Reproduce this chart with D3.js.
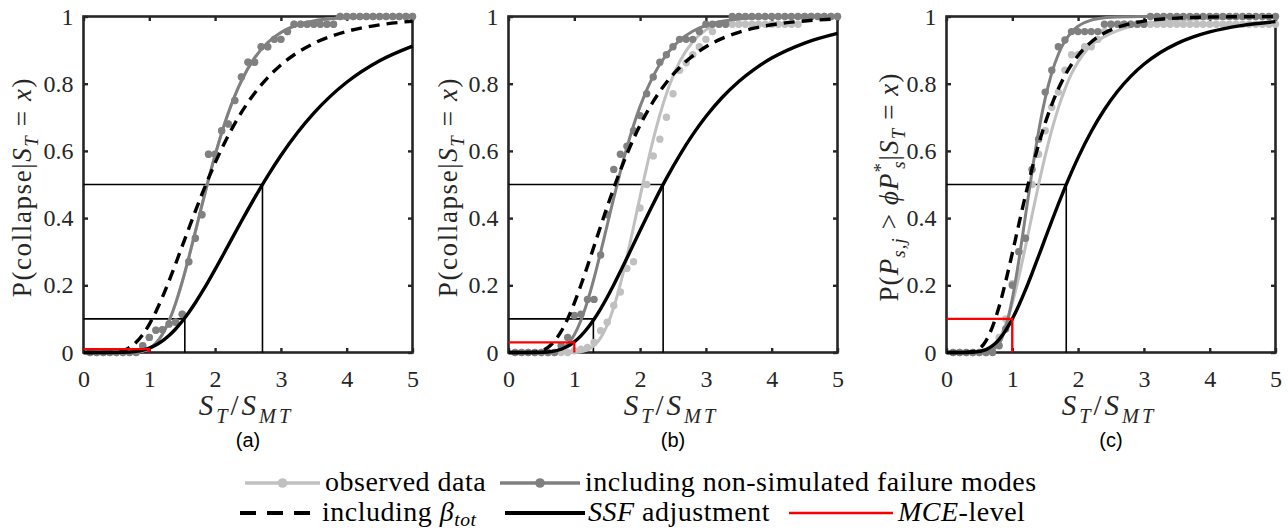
<!DOCTYPE html>
<html><head><meta charset="utf-8">
<script src="https://cdn.jsdelivr.net/npm/d3@7"></script>
<style>body{margin:0;background:#fff}text{white-space:pre}</style>
</head><body><svg id="chart" width="1288" height="531"></svg>
<script>
// ---------------- DATA ----------------
const xTicks = [0, 1, 2, 3, 4, 5];
const yTicks = [0, 0.2, 0.4, 0.6, 0.8, 1];
const yTickLabels = ["0", "0.2", "0.4", "0.6", "0.8", "1"];
const panelCaptions = ["(a)", "(b)", "(c)"];

// x positions where the fitted fragility curves were read
const xCurve = [0,0.2,0.4,0.6,0.8,0.9,1.0,1.1,1.2,1.3,1.4,1.5,1.6,1.7,1.8,1.9,2.0,2.2,2.4,2.6,2.8,3.0,3.25,3.5,3.75,4.0,4.5,5.0];

const aNonsimCurve = [0,0,0,0,0.0011,0.0043,0.0121,0.0278,0.0544,0.0938,0.1462,0.210,0.2823,0.3596,0.4384,0.515,0.5873,0.7126,0.8084,0.8766,0.9226,0.9524,0.9747,0.9868,0.9932,0.9965,0.9991,0.9998];
const aObsCurve = aNonsimCurve;
const aDashedCurve = [0,0,0.0003,0.006,0.0304,0.0535,0.0839,0.1216,0.165,0.213,0.264,0.3164,0.3689,0.4207,0.471,0.5189,0.564,0.6455,0.7144,0.7716,0.8183,0.8559,0.8925,0.92,0.9404,0.9556,0.9752,0.986];
const aSsfCurve = [0,0,0,0.0004,0.0033,0.007,0.0131,0.0221,0.0345,0.0505,0.07,0.093,0.1192,0.1481,0.1795,0.2127,0.2472,0.3187,0.3905,0.46,0.5257,0.5862,0.6539,0.7124,0.7623,0.8043,0.8684,0.912];

const bObsCurve = [0,0,0,0,0,0.0001,0.0006,0.0025,0.0079,0.0203,0.0435,0.0812,0.1348,0.2037,0.2848,0.3735,0.4641,0.6344,0.77,0.8649,0.925,0.9602,0.9829,0.9929,0.9972,0.9989,0.9998,1.0];
const bNonsimCurve = [0,0,0,0.0005,0.0098,0.0253,0.0531,0.0954,0.1521,0.221,0.298,0.3793,0.4604,0.5383,0.6105,0.6755,0.7325,0.8233,0.8866,0.9288,0.956,0.9731,0.9856,0.9924,0.996,0.9979,0.9994,0.9998];
const bDashedCurve = [0,0,0.0012,0.0154,0.0626,0.1008,0.1472,0.2,0.2571,0.3162,0.3755,0.4336,0.4892,0.5417,0.5906,0.6356,0.6765,0.7471,0.8036,0.8482,0.8829,0.9098,0.9349,0.953,0.966,0.9753,0.9868,0.9929];
const bSsfCurve = [0,0,0.0001,0.0015,0.0096,0.0185,0.0317,0.0495,0.072,0.099,0.1301,0.1646,0.2017,0.2408,0.2811,0.322,0.3629,0.443,0.5183,0.587,0.6484,0.7023,0.7596,0.8068,0.8452,0.8762,0.921,0.9496];

const cObsCurve = [0,0,0,0.004,0.0402,0.0838,0.1465,0.2255,0.315,0.4084,0.5,0.5853,0.6617,0.728,0.7839,0.83,0.865,0.915,0.94,0.958,0.97,0.978,0.985,0.989,0.992,0.994,0.996,0.998];
const cNonsimCurve = [0,0,0,0.0009,0.0271,0.0759,0.1597,0.2746,0.4067,0.5388,0.6577,0.7561,0.8321,0.8878,0.9269,0.9534,0.9708,0.989,0.996,0.9986,0.9995,0.9999,1,1,1,1,1,1];
const cDashedCurve = [0,0,0.0023,0.0348,0.1368,0.2118,0.2954,0.3823,0.4673,0.5471,0.6192,0.683,0.738,0.7849,0.8243,0.857,0.884,0.9241,0.9506,0.9679,0.9791,0.9864,0.992,0.9953,0.9972,0.9983,0.9994,0.9998];
const cSsfCurve = [0,0,0.0006,0.0087,0.0392,0.0659,0.0999,0.1405,0.1862,0.2357,0.2872,0.3395,0.3913,0.442,0.4906,0.5368,0.58,0.6577,0.7232,0.7775,0.8219,0.8577,0.8928,0.9193,0.9392,0.9541,0.9737,0.9848];

// empirical points (x = 0.1 ... 5.0)
const xPts = [0.1,0.2,0.3,0.4,0.5,0.6,0.7,0.8,0.9,1.0,1.1,1.2,1.3,1.4,1.5,1.6,1.7,1.8,1.9,2.0,2.1,2.2,2.3,2.4,2.5,2.6,2.7,2.8,2.9,3.0,3.1,3.2,3.3,3.4,3.5,3.6,3.7,3.8,3.9,4.0,4.1,4.2,4.3,4.4,4.5,4.6,4.7,4.8,4.9,5.0];
const aNonsimPts = [0,0,0,0,0,0,0,0,0.02,0.045,0.066,0.068,0.085,0.09,0.114,0.27,0.34,0.41,0.59,0.59,0.66,0.68,0.75,0.82,0.864,0.864,0.91,0.91,0.932,0.932,0.955,0.977,0.977,0.977,0.977,0.977,0.977,0.977,1,1,1,1,1,1,1,1,1,1,1,1];
const aObsPts = aNonsimPts;
const bObsPts = [0,0,0,0,0,0,0,0,0,0.005,0.01,0.015,0.03,0.065,0.09,0.14,0.18,0.25,0.27,0.43,0.5,0.585,0.635,0.70,0.77,0.84,0.862,0.886,0.91,0.932,0.955,0.977,0.977,0.977,0.977,0.977,0.977,0.977,0.977,0.977,0.977,0.977,0.977,0.977,1,1,1,1,1,1];
const bNonsimPts = [0,0,0,0,0,0,0,0.02,0.045,0.11,0.114,0.158,0.158,0.29,0.41,0.545,0.59,0.614,0.66,0.705,0.77,0.82,0.864,0.886,0.91,0.932,0.932,0.932,0.955,0.977,0.977,0.977,0.977,1,1,1,1,1,1,1,1,1,1,1,1,1,1,1,1,1];
const cObsPts = [0,0,0,0,0,0,0.01,0.045,0.1,0.205,0.3,0.34,0.5,0.59,0.66,0.73,0.775,0.84,0.886,0.886,0.91,0.91,0.932,0.955,0.977,0.977,0.977,0.977,0.977,0.977,0.977,0.977,0.977,0.977,0.977,0.977,0.977,0.977,0.977,0.977,0.977,0.977,0.977,0.977,0.977,0.977,0.977,0.977,0.977,0.977];
const cNonsimPts = [0,0,0,0,0,0,0,0.02,0.07,0.2,0.3,0.34,0.545,0.635,0.775,0.84,0.91,0.93,0.955,0.955,0.955,0.955,0.955,0.977,0.977,0.977,0.977,0.977,0.977,0.977,1,1,1,1,1,1,1,1,1,1,1,1,1,1,1,1,1,1,1,1];

// reference (probability, S_T/S_MT) crossings of the SSF-adjusted curve
const refProbs = [[0.5, 0.1], [0.5, 0.1], [0.5, 0.1]];
const refX = [[2.72, 1.54], [2.35, 1.29], [1.82, 1.0]];
// MCE-level marker: x and probability
const mceX = [1, 1, 1];
const mceP = [0.01, 0.03, 0.1];

const legendLabels = ["observed data", "including non-simulated failure modes", "including β_tot", "SSF adjustment", "MCE-level"];

// ---------------- LAYOUT ----------------
const svg = d3.select("#chart");
const axisColor = "#262626";
const cObs = "#c0c0c0", cNon = "#808080";
const serif = "Liberation Serif, DejaVu Serif, Noto Serif, Times New Roman, serif";
const panelLeft = [83.5, 508.5, 946.5];
const panelW = 329, plotTop = 16.5, plotBottom = 352.5;
const ylabX = [30.5, 457, 898];

const panelData = [
  {obsC: aObsCurve, nonC: aNonsimCurve, dashC: aDashedCurve, ssfC: aSsfCurve, obsP: aObsPts, nonP: aNonsimPts},
  {obsC: bObsCurve, nonC: bNonsimCurve, dashC: bDashedCurve, ssfC: bSsfCurve, obsP: bObsPts, nonP: bNonsimPts},
  {obsC: cObsCurve, nonC: cNonsimCurve, dashC: cDashedCurve, ssfC: cSsfCurve, obsP: cObsPts, nonP: cNonsimPts}
];

function rich(sel, segs, fs, subShift) {
  const sb = subShift || 0.27;
  let cur = 0;
  segs.forEach(s => {
    const shift = s.sub ? sb * fs : (s.sup ? -0.42 * fs : 0);
    const ts = sel.append("tspan").text(s.t)
      .style("font-style", s.it ? "italic" : "normal")
      .style("font-size", ((s.sub || s.sup) ? fs * 0.7 : fs) + "px");
    if (shift !== cur) ts.attr("dy", shift - cur);
    if (s.dx) ts.attr("dx", s.dx);
    cur = shift;
  });
}

const ylabSegsCollapse = [{t:"P(collapse|"},{t:"S",it:1},{t:"T",it:1,sub:1},{t:" = "},{t:"x",it:1},{t:")"}];
const ylabSegsC = [{t:"P("},{t:"P",it:1},{t:"s,j",it:1,sub:1},{t:" > "},{t:"ϕ",it:1},{t:"P",it:1},{t:"*",sup:1},{t:"s",it:1,sub:1,dx:-7},{t:"|"},{t:"S",it:1},{t:"T",it:1,sub:1},{t:" = "},{t:"x",it:1},{t:")"}];
const xlabSegs = [{t:"S",it:1},{t:"T",it:1,sub:1},{t:"/"},{t:"S",it:1},{t:"MT",it:1,sub:1}];

panelData.forEach((pd, i) => {
  const L = panelLeft[i];
  const x = d3.scaleLinear().domain([0, 5]).range([L, L + panelW]);
  const y = d3.scaleLinear().domain([0, 1]).range([plotBottom, plotTop]);
  const g = svg.append("g");

  // frame
  g.append("rect").attr("x", L).attr("y", plotTop).attr("width", panelW).attr("height", plotBottom - plotTop)
    .attr("fill", "none").attr("stroke", axisColor).attr("stroke-width", 2.6);

  // axes (inward ticks)
  const fmtY = (d) => yTickLabels[yTicks.indexOf(d)];
  const ax = [
    g.append("g").attr("transform", `translate(0,${plotBottom})`).call(d3.axisBottom(x).tickValues(xTicks).tickSize(-4.5).tickPadding(17).tickFormat(d3.format("d"))),
    g.append("g").attr("transform", `translate(${L},0)`).call(d3.axisLeft(y).tickValues(yTicks).tickSize(-4.5).tickPadding(10).tickFormat(fmtY)),
    g.append("g").attr("transform", `translate(0,${plotTop})`).call(d3.axisTop(x).tickValues(xTicks).tickSize(-4.5).tickFormat("")),
    g.append("g").attr("transform", `translate(${L + panelW},0)`).call(d3.axisRight(y).tickValues(yTicks).tickSize(-4.5).tickFormat(""))
  ];
  ax.forEach(a => {
    a.attr("font-family", null).attr("font-size", null);
    a.select(".domain").remove();
    a.selectAll("line").attr("stroke", axisColor).attr("stroke-width", 2.4);
    a.selectAll("text").style("font-family", serif).style("font-size", "24px").attr("fill", axisColor);
  });

  // reference lines
  refProbs[i].forEach((p, k) => {
    const xv = refX[i][k];
    g.append("path").attr("d", `M${x(0)},${y(p)}H${x(xv)}V${y(0)}`)
      .attr("fill", "none").attr("stroke", "#000").attr("stroke-width", 1.6);
  });

  const line = d3.line().x((d, j) => x(xCurve[j])).y(d => y(d)).curve(d3.curveMonotoneX);

  // observed
  g.append("g").selectAll("circle").data(pd.obsP).join("circle")
    .attr("cx", (d, j) => x(xPts[j])).attr("cy", d => y(d)).attr("r", 3.7).attr("fill", cObs);
  g.append("path").attr("d", line(pd.obsC)).attr("fill", "none").attr("stroke", cObs).attr("stroke-width", 3);
  // non-simulated
  g.append("g").selectAll("circle").data(pd.nonP).join("circle")
    .attr("cx", (d, j) => x(xPts[j])).attr("cy", d => y(d)).attr("r", 3.7).attr("fill", cNon);
  g.append("path").attr("d", line(pd.nonC)).attr("fill", "none").attr("stroke", cNon).attr("stroke-width", 3);
  // beta_tot
  g.append("path").attr("d", line(pd.dashC)).attr("fill", "none").attr("stroke", "#000")
    .attr("stroke-width", 3.4).attr("stroke-dasharray", "11,7");
  // SSF
  g.append("path").attr("d", line(pd.ssfC)).attr("fill", "none").attr("stroke", "#000").attr("stroke-width", 3.4);
  // MCE
  g.append("path").attr("d", `M${x(0)},${y(mceP[i])}H${x(mceX[i])}V${y(0)}`)
    .attr("fill", "none").attr("stroke", "#ff0000").attr("stroke-width", 2.2);

  // y label
  const yl = svg.append("text").attr("transform", `translate(${ylabX[i]},187) rotate(-90)`)
    .attr("text-anchor", "middle").style("font-family", serif).attr("fill", axisColor)
    .style("font-size", "27px").style("letter-spacing", i === 2 ? "1.1px" : "1.6px");
  rich(yl, i === 2 ? ylabSegsC : ylabSegsCollapse, 27);

  // x label
  const xl = svg.append("text").attr("x", L + panelW / 2 - 2).attr("y", 415)
    .attr("text-anchor", "middle").style("font-family", serif).attr("fill", axisColor)
    .style("font-size", "29px").style("letter-spacing", "3px");
  rich(xl, xlabSegs, 29);

  // caption
  svg.append("text").attr("x", L + panelW / 2).attr("y", 447).attr("text-anchor", "middle")
    .style("font-family", "Liberation Sans, Arial, sans-serif").style("font-size", "20px").attr("fill", "#000")
    .text(panelCaptions[i]);
});

// ---------------- LEGEND ----------------
const legendItems = [
  {segs: [{t: legendLabels[0]}], row: 483, x1: 245, x2: 320, tx: 325, color: cObs, w: 3.5, dot: true},
  {segs: [{t: legendLabels[1]}], row: 483, x1: 500, x2: 580, tx: 585, color: cNon, w: 3.5, dot: true},
  {segs: [{t: "including "}, {t: "β", it: 1}, {t: "tot", it: 1, sub: 1}], row: 513, x1: 240, x2: 314, tx: 322, color: "#000", w: 4, dash: "16,11"},
  {segs: [{t: "SSF", it: 1}, {t: " adjustment"}], row: 513, x1: 505, x2: 585, tx: 588, color: "#000", w: 4},
  {segs: [{t: "MCE", it: 1}, {t: "-level"}], row: 513, x1: 789, x2: 893, tx: 898, color: "#ff0000", w: 2.5}
];
const lg = svg.append("g");
legendItems.forEach(it => {
  lg.append("line").attr("x1", it.x1).attr("x2", it.x2).attr("y1", it.row).attr("y2", it.row)
    .attr("stroke", it.color).attr("stroke-width", it.w).attr("stroke-dasharray", it.dash || null);
  if (it.dot) lg.append("circle").attr("cx", (it.x1 + it.x2) / 2).attr("cy", it.row).attr("r", 4.8).attr("fill", it.color);
  const t = lg.append("text").attr("x", it.tx).attr("y", it.row + 8).style("font-family", serif)
    .style("font-size", "28px").style("letter-spacing", "0.5px").attr("fill", "#000");
  rich(t, it.segs, 28, 0.18);
});
</script></body></html>
